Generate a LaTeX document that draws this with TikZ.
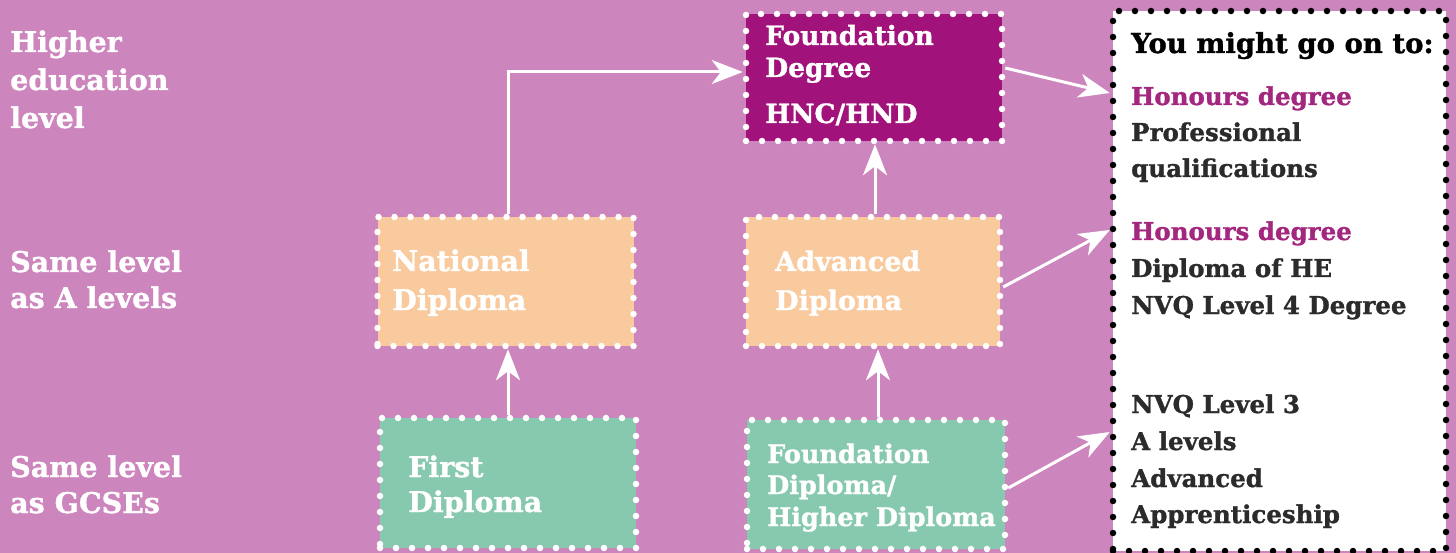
\documentclass[tikz,border=0pt]{standalone}
\usepackage{fontspec}
\setmainfont{DejaVu Serif}[BoldFeatures={FakeBold=1.2}]
\usetikzlibrary{arrows.meta}
\definecolor{bg}{RGB}{205,133,189}
\definecolor{plum}{RGB}{161,18,122}
\definecolor{peach}{RGB}{249,202,157}
\definecolor{mint}{RGB}{135,201,174}
\definecolor{honour}{RGB}{163,38,127}
\definecolor{ink}{RGB}{43,43,43}
\tikzset{
  dotbox/.style={rectangle, inner sep=0pt, line width=6.5pt, dash pattern=on 0pt off 16pt, line cap=round},
  wbox/.style={dotbox, draw=white},
  lbl/.style={anchor=base west, inner sep=0pt, text=white, font=\bfseries\fontsize{#1}{#1}\selectfont},
  dlbl/.style={anchor=base west, inner sep=0pt, text=ink, font=\bfseries\fontsize{#1}{#1}\selectfont},
  hlbl/.style={anchor=base west, inner sep=0pt, text=honour, font=\bfseries\fontsize{#1}{#1}\selectfont},
  conn/.style={draw=white, line width=3pt, -{Stealth[length=31pt,width=24pt,inset=9pt]}}
}
\begin{document}
\begin{tikzpicture}[x=1pt,y=-1pt]
\useasboundingbox[fill=bg] (0,0) rectangle (1456,553);
% boxes
\node[wbox, fill=plum, minimum width=256pt, minimum height=127pt] (fd) at (874,77.5) {};
\node[wbox, fill=peach, minimum width=256pt, minimum height=129pt] (nd) at (505.5,281.5) {};
\node[wbox, fill=peach, minimum width=254pt, minimum height=129pt] (ad) at (873,281.5) {};
\node[wbox, fill=mint, minimum width=256pt, minimum height=130pt] (fi) at (508,483) {};
\node[wbox, fill=mint, minimum width=258pt, minimum height=129pt] (fdip) at (876,484.5) {};
\node[dotbox, draw=black, fill=white, minimum width=333pt, minimum height=540pt] (out) at (1279.5,281) {};
% connectors
\draw[conn] ([xshift=2.5pt]nd.north) |- ([yshift=5.5pt]fd.west);
\draw[conn] ([xshift=2pt]ad.north) -- ([xshift=2pt]ad.north |- fd.south);
\draw[conn] (fi.north) -- (fi.north |- nd.south);
\draw[conn] ([xshift=2pt]fdip.north) -- ([xshift=2pt]fdip.north |- ad.south);
\draw[conn] ([yshift=9.5pt]fd.east) -- ([yshift=188pt]out.west);
\draw[conn] ([yshift=-5.5pt]ad.east) -- ([yshift=51pt]out.west);
\draw[conn] ([yshift=-3.5pt]fdip.east) -- ([yshift=-151pt]out.west);
% left labels
\node[lbl=28.5] (l1a) at (10,52) {Higher};
\node[lbl=28.5] (l1b) at (10,90) {education};
\node[lbl=28.5] (l1c) at (10,128) {level};
\node[lbl=28.5] (l2a) at (10,272) {Same level};
\node[lbl=28.5] (l2b) at (10,308) {as A levels};
\node[lbl=28.5] (l3a) at (10,477) {Same level};
\node[lbl=28.5] (l3b) at (10,513) {as GCSEs};
% box texts
\node[lbl=26.5] (t1a) at (765,45) {Foundation};
\node[lbl=26.5] (t1b) at (765,77) {Degree};
\node[lbl=26.5] (t1c) at (765,123) {HNC/HND};
\node[lbl=28.5] (t2a) at (392,271) {National};
\node[lbl=28.5] (t2b) at (392,310) {Diploma};
\node[lbl=27] (t3a) at (775,271) {Advanced};
\node[lbl=27] (t3b) at (775,310) {Diploma};
\node[lbl=28.5] (t4a) at (408,477) {First};
\node[lbl=28.5] (t4b) at (408,512) {Diploma};
\node[lbl=25.5] (t5a) at (767,463) {Foundation};
\node[lbl=25.5] (t5b) at (767,494) {Diploma/};
\node[lbl=25.5] (t5c) at (767,526) {Higher Diploma};
% right box
\node[dlbl=27.5, text=black] (r0) at (1131,53) {You might go on to:};
\node[hlbl=24.5] (r1a) at (1131,105) {Honours degree};
\node[dlbl=24.5] (r1b) at (1131,141) {Professional};
\node[dlbl=24.5] (r1c) at (1131,177) {qualifications};
\node[hlbl=24.5] (r2a) at (1131,240) {Honours degree};
\node[dlbl=24.5] (r2b) at (1131,277) {Diploma of HE};
\node[dlbl=24.5] (r2c) at (1131,314) {NVQ Level 4 Degree};
\node[dlbl=24.5] (r3a) at (1131,413) {NVQ Level 3};
\node[dlbl=24.5] (r3b) at (1131,450) {A levels};
\node[dlbl=24.5] (r3c) at (1131,487) {Advanced};
\node[dlbl=24.5] (r3d) at (1131,523) {Apprenticeship};
\end{tikzpicture}
\end{document}
